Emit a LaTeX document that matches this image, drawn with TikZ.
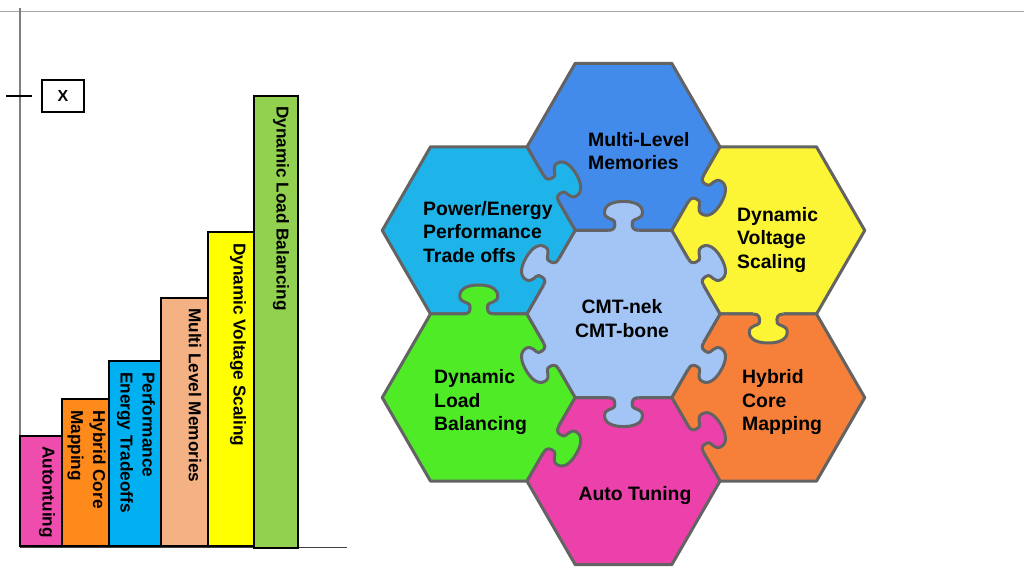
\documentclass[tikz,border=0pt]{standalone}
\usepackage{fontspec}
\newfontfamily\arialfont{Liberation Sans}
\definecolor{outl}{HTML}{636363}
\definecolor{hexBlue}{HTML}{428BEA}
\definecolor{hexCyan}{HTML}{1FB4E9}
\definecolor{hexYellow}{HTML}{FBF536}
\definecolor{hexOrange}{HTML}{F6803A}
\definecolor{hexPink}{HTML}{EC40AB}
\definecolor{hexGreen}{HTML}{4FEB27}
\definecolor{hexLight}{HTML}{A2C5F6}
\definecolor{barPink}{HTML}{EE4DAE}
\definecolor{barOrange}{HTML}{FF8A1C}
\definecolor{barBlue}{HTML}{00B0F0}
\definecolor{barPeach}{HTML}{F4B183}
\definecolor{barYellow}{HTML}{FFFF00}
\definecolor{barGreen}{HTML}{92D050}
\definecolor{topline}{HTML}{A6A6A6}
\definecolor{axisgray}{HTML}{7F7F7F}
\newcommand\hexcell[2]{\draw[hexline, fill=#2, shift={(#1)}] (0:96.5) -- (60:96.5) -- (120:96.5) -- (180:96.5) -- (240:96.5) -- (300:96.5) -- cycle;}
\newcommand\jigknob[3]{%
\begin{scope}[shift={(#1)}, rotate=#2-90, shift={(0,83.57)}]
\fill[#3] (-15,-2.2) -- (-15,0) .. controls (-9,0) and (-8,4) .. (-9,9) .. controls (-10,12) and (-19,11) .. (-19,18) .. controls (-19,26) and (-10,29) .. (0,29) .. controls (10,29) and (19,26) .. (19,18) .. controls (19,11) and (10,12) .. (9,9) .. controls (8,4) and (9,0) .. (15,0) -- (15,-2.2) -- cycle;
\draw[hexline] (-15,0) .. controls (-9,0) and (-8,4) .. (-9,9) .. controls (-10,12) and (-19,11) .. (-19,18) .. controls (-19,26) and (-10,29) .. (0,29) .. controls (10,29) and (19,26) .. (19,18) .. controls (19,11) and (10,12) .. (9,9) .. controls (8,4) and (9,0) .. (15,0);
\end{scope}}
\begin{document}
\begin{tikzpicture}[x=1pt,y=1pt,
  hexline/.style={draw=outl, line width=3pt, line join=round},
  hextext/.style={font=\arialfont\bfseries\fontsize{19.4}{23.5}\selectfont, align=left, inner sep=0pt, text=black},
  bartext/.style={font=\arialfont\bfseries\fontsize{17.2}{22}\selectfont, align=left, inner sep=0pt, rotate=-90, anchor=west},
  barbox/.style={draw=black, line width=2.5pt, line join=miter}]
\useasboundingbox (0,0) rectangle (1024,575);
\fill[white] (0,0) rectangle (1024,575);

% ---- left chart ----
\draw[topline, line width=1pt] (0,563) -- (1024,563);
\coordinate (axTop) at (20,567);
\coordinate (axBot) at (20,29);
\draw[axisgray, line width=1.3pt] (axTop) -- (axBot);
\coordinate (baseL) at (20,28);
\coordinate (baseR) at (347,28);
\draw[black!75, line width=1pt] (baseL) -- (baseR);
\coordinate (tickL) at (6,479);
\coordinate (tickR) at (32,479);
\draw[black, line width=1.8pt] (tickL) -- (tickR);
\node[draw=black, line width=2pt, minimum width=42pt, minimum height=32pt, inner sep=0pt,
      font=\arialfont\bfseries\fontsize{16}{18}\selectfont] (xbox) at (63,479) {X};

\draw[barbox, fill=barPink]   (20,29)  rectangle (62,139);
\draw[barbox, fill=barOrange] (62,29)  rectangle (109,176);
\draw[barbox, fill=barBlue]   (109,29) rectangle (161,214);
\draw[barbox, fill=barPeach]  (161,29) rectangle (208,277);
\draw[barbox, fill=barYellow] (208,29) rectangle (254,343);
\draw[barbox, fill=barGreen]  (254,27) rectangle (298,479);

\node[bartext] (b1) at (47,129) {Autontuing};
\node[bartext] (b2) at (86.5,165) {Hybrid Core\\Mapping};
\node[bartext] (b3) at (136,203) {Performance\\Energy Tradeoffs};
\node[bartext] (b4) at (195,267) {Multi Level Memories};
\node[bartext] (b5) at (238,332) {Dynamic Voltage Scaling};
\node[bartext] (b6) at (281,469) {Dynamic Load Balancing};

% ---- hexagon puzzle ----
\coordinate (hC)  at (623.5,261);
\coordinate (hT)  at (623.5,428.14);
\coordinate (hB)  at (623.5,93.86);
\coordinate (hUL) at (478.75,344.57);
\coordinate (hUR) at (768.25,344.57);
\coordinate (hLL) at (478.75,177.43);
\coordinate (hLR) at (768.25,177.43);

\hexcell{hT}{hexBlue}
\hexcell{hUL}{hexCyan}
\hexcell{hUR}{hexYellow}
\hexcell{hLL}{hexGreen}
\hexcell{hLR}{hexOrange}
\hexcell{hB}{hexPink}
\hexcell{hC}{hexLight}

% center knobs (all outward)
\jigknob{hC}{90}{hexLight}
\jigknob{hC}{150}{hexLight}
\jigknob{hC}{210}{hexLight}
\jigknob{hC}{270}{hexLight}
\jigknob{hC}{330}{hexLight}
\jigknob{hC}{30}{hexLight}
% ring knobs
\jigknob{hUL}{30}{hexCyan}
\jigknob{hT}{330}{hexBlue}
\jigknob{hUR}{270}{hexYellow}
\jigknob{hB}{30}{hexPink}
\jigknob{hLL}{330}{hexGreen}
\jigknob{hLL}{90}{hexGreen}

\node[hextext, anchor=west] (tMem) at (588,424) {Multi-Level\\Memories};
\node[hextext, anchor=west] (tPow) at (423,343) {Power/Energy\\Performance\\Trade offs};
\node[hextext, anchor=west] (tDVS) at (737,335) {Dynamic\\Voltage\\Scaling};
\node[hextext, align=center] (tCMT) at (622,256.5) {CMT-nek\\CMT-bone};
\node[hextext, anchor=west] (tDLB) at (434,172.5) {Dynamic\\Load\\Balancing};
\node[hextext, anchor=west] (tHCM) at (742,172.5) {Hybrid\\Core\\Mapping};
\node[hextext] (tAT) at (635,79.5) {Auto Tuning};
\end{tikzpicture}
\end{document}
